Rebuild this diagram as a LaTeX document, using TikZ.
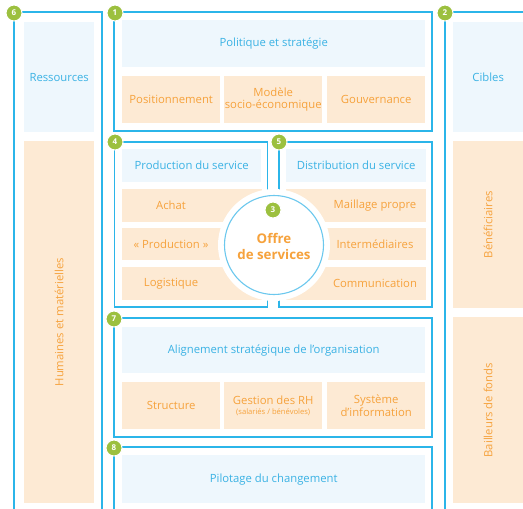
\documentclass[tikz,border=0pt]{standalone}
\usepackage{fontspec}
\setmainfont{Open Sans}
\definecolor{lb}{HTML}{2BB5E9}
\definecolor{ring}{HTML}{6CC8EE}
\definecolor{bfill}{HTML}{EEF7FD}
\definecolor{ofill}{HTML}{FDEAD4}
\definecolor{otext}{HTML}{F6A23C}
\definecolor{btext}{HTML}{3AB2E4}
\definecolor{grn}{HTML}{9CC03F}
\begin{document}
\begin{tikzpicture}[x=1pt,y=-1pt,
  frame/.style={draw=lb,line width=1.3pt},
  bbox/.style={fill=bfill,text=btext,anchor=north west,inner sep=0,align=center,font=\fontsize{11.3}{13}\selectfont},
  obox/.style={fill=ofill,text=otext,anchor=north west,inner sep=0,align=center,font=\fontsize{11.3}{12.5}\selectfont},
  otxt/.style={text=otext,inner sep=0,align=center,font=\fontsize{11.3}{13}\selectfont},
  badge/.style={circle,fill=grn,draw=white,line width=1pt,text=white,font=\bfseries\fontsize{8}{8}\selectfont,inner sep=0,minimum size=16pt}]
\useasboundingbox (0,0) rectangle (523,509);
% side columns
\node[bbox,minimum width=70,minimum height=110] (res) at (24,22) {Ressources};
\node[obox,minimum width=70,minimum height=362] (hum) at (24,141) {};
\node[otxt,rotate=90] (humt) at (hum.center) {Humaines et matérielles};
\node[bbox,minimum width=70,minimum height=110] (cib) at (453,22) {Cibles};
\node[obox,minimum width=70,minimum height=167] (ben) at (453,141) {};
\node[otxt,rotate=90] (bent) at (ben.center) {Bénéficiaires};
\node[obox,minimum width=70,minimum height=186] (bai) at (453,317) {};
\node[otxt,rotate=90] (bait) at (bai.center) {Bailleurs de fonds};
% frame 1
\node[bbox,minimum width=303,minimum height=47] (pol) at (122,20) {Politique et stratégie};
\node[obox,minimum width=98,minimum height=47] (pos) at (122,76) {Positionnement};
\node[obox,minimum width=98,minimum height=47] (mod) at (224,76) {Modèle\\socio-économique};
\node[obox,minimum width=98,minimum height=47] (gou) at (327,76) {Gouvernance};
% frames 4 and 5
\node[bbox,minimum width=139,minimum height=33] (prod) at (122,149) {Production du service};
\node[bbox,minimum width=140,minimum height=33] (dist) at (286,149) {Distribution du service};
\node[obox,minimum width=140,minimum height=33] (ach) at (122,189) {};
\node[obox,minimum width=140,minimum height=32] (pro) at (122,228) {};
\node[obox,minimum width=140,minimum height=33] (log) at (122,267) {};
\node[obox,minimum width=140,minimum height=33] (mai) at (286,189) {};
\node[obox,minimum width=140,minimum height=32] (int) at (286,228) {};
\node[obox,minimum width=140,minimum height=33] (com) at (286,267) {};
\node[otxt] (acht) at (171,205.5) {Achat};
\node[otxt] (prot) at (171,244) {« Production »};
\node[otxt] (logt) at (171,283.5) {Logistique};
\node[otxt] (mait) at (375,205.5) {Maillage propre};
\node[otxt] (intt) at (375,244) {Intermédiaires};
\node[otxt] (comt) at (375,283.5) {Communication};
% frame 7
\node[bbox,minimum width=303,minimum height=46] (ali) at (122,327) {Alignement stratégique de l’organisation};
\node[obox,minimum width=98,minimum height=47] (str) at (122,382) {Structure};
\node[obox,minimum width=98,minimum height=47] (ges) at (224,382) {Gestion des RH\\[-3pt]{\fontsize{7.6}{8}\selectfont(salariés / bénévoles)}};
\node[obox,minimum width=98,minimum height=47] (sys) at (327,382) {Système\\d’information};
% frame 8
\node[bbox,minimum width=303,minimum height=48] (pil) at (122,455) {Pilotage du changement};
% frames
\draw[frame] (14,515) -- (14,12) -- (102,12) -- (102,515);
\draw[frame] (445,515) -- (445,12) -- (530,12);
\draw[frame] (114,12) rectangle (432,131);
\draw[frame] (114.5,142) rectangle (267.5,307);
\draw[frame] (279,142) rectangle (432,307);
\draw[frame] (114,318) rectangle (432,437);
\draw[frame] (432,515) -- (432,447) -- (114,447) -- (114,515);
% central circle
\fill[white] (274,245) circle (56);
\node[circle,fill=white,draw=ring,line width=1.1pt,minimum size=99,inner sep=0] (off) at (274,245) {};
\node[text=otext,align=center,font=\bfseries\fontsize{13.3}{16}\selectfont,inner sep=0] (offt) at (274,246) {Offre\\de services};
% badges
\node[badge] (b6) at (14,13) {6};
\node[badge] (b1) at (115,13) {1};
\node[badge] (b2) at (445,13) {2};
\node[badge] (b4) at (115,142) {4};
\node[badge] (b5) at (279,142) {5};
\node[badge] (b7) at (114,319) {7};
\node[badge] (b8) at (114,448) {8};
\node[badge] (b3) at (273,210) {3};
\end{tikzpicture}
\end{document}
